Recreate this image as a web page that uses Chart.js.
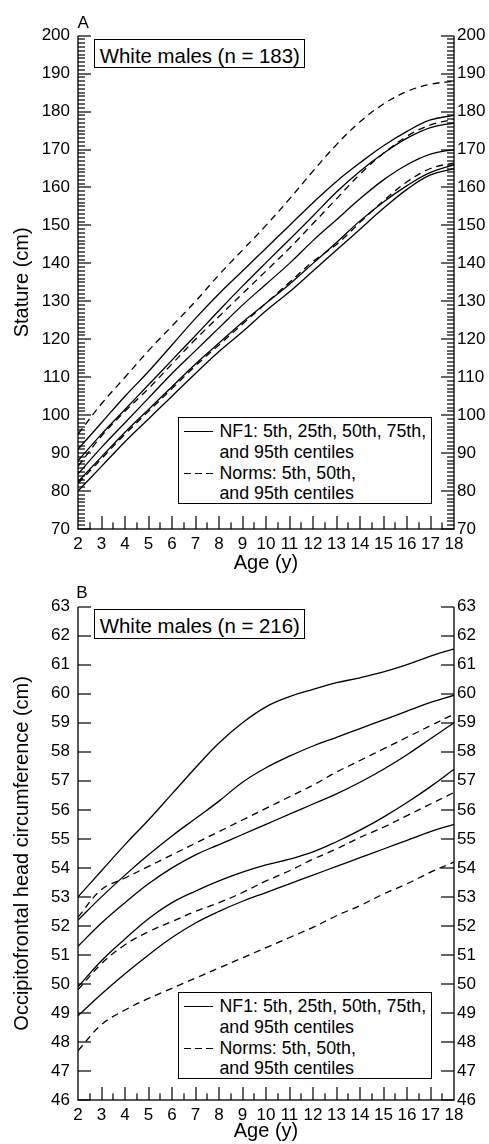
<!DOCTYPE html>
<html>
<head>
<meta charset="utf-8">
<title>NF1 growth centiles — white males</title>
<script src="https://cdn.jsdelivr.net/npm/chart.js@4/dist/chart.umd.min.js"></script>
<style>
  html, body { margin: 0; padding: 0; background: #fff; }
  body { position: relative; width: 489px; height: 1144px; overflow: hidden;
         font-family: "Liberation Sans", Arial, Helvetica, sans-serif; color: #000; }
  .panel { position: absolute; left: 0; width: 489px; }
  .tag { position: absolute; font-size: 17px; line-height: 17px; }
  .nbox { position: absolute; left: 93.7px; width: 211.6px; height: 29.3px; box-sizing: border-box;
          border: 1px solid #000; background: #fff; padding: 5.6px 0 0 5.1px;
          font-size: 20.4px; line-height: 20.4px; white-space: nowrap; }
  .legend { position: absolute; left: 178.3px; width: 254px; height: 87px; box-sizing: border-box;
            border: 1px solid #000; background: #fff; padding-top: 2.4px;
            font-size: 17.8px; line-height: 20.9px; white-space: nowrap; }
  .legend .row { position: relative; padding-left: 40.2px; }
  .legend .key { position: absolute; left: 4.7px; top: 10.2px; width: 29px; height: 1.3px; }
  .key.solid  { background: #000; }
  .key.dashed { background: repeating-linear-gradient(to right, #000 0 7px, transparent 7px 11px); }
</style>
</head>
<body>

<div class="panel" style="top:0;height:576px"><canvas id="chartA" width="489" height="576"></canvas></div>
<div class="panel" style="top:576px;height:568px"><canvas id="chartB" width="489" height="568"></canvas></div>

<div class="tag" style="left:77.5px;top:13.9px">A</div>
<div class="tag" style="left:76.3px;top:583.9px">B</div>

<div class="nbox" style="top:39px">White males (n = 183)</div>
<div class="nbox" style="top:609.3px">White males (n = 216)</div>

<div class="legend" style="top:417.3px">
  <div class="row"><span class="key solid"></span>NF1: 5th, 25th, 50th, 75th,</div>
  <div class="row">and 95th centiles</div>
  <div class="row"><span class="key dashed"></span>Norms: 5th, 50th,</div>
  <div class="row">and 95th centiles</div>
</div>
<div class="legend" style="top:992.3px">
  <div class="row"><span class="key solid"></span>NF1: 5th, 25th, 50th, 75th,</div>
  <div class="row">and 95th centiles</div>
  <div class="row"><span class="key dashed"></span>Norms: 5th, 50th,</div>
  <div class="row">and 95th centiles</div>
</div>

<script>
/* ─── Ejes ─── */
const AGES          = [2, 3, 4, 5, 6, 7, 8, 9, 10, 11, 12, 13, 14, 15, 16, 17, 18];
const AGE_TICKS     = [2, 3, 4, 5, 6, 7, 8, 9, 10, 11, 12, 13, 14, 15, 16, 17, 18];
const STATURE_TICKS = [70, 80, 90, 100, 110, 120, 130, 140, 150, 160, 170, 180, 190, 200];
const OFC_TICKS     = [46, 47, 48, 49, 50, 51, 52, 53, 54, 55, 56, 57, 58, 59, 60, 61, 62, 63];

/* ─── A: talla (cm) ─── */
const NF1_P95_HT  = [91, 98, 105, 111.5, 118.5, 125.5, 132, 138, 144, 150, 156, 161.6, 166.5, 171, 174.8, 177.8, 179];
const NF1_P75_HT  = [88, 95, 101.5, 108, 114.5, 121, 127.6, 134, 140.2, 146.3, 152.5, 158.8, 164.3, 169, 173, 175.8, 177];
const NF1_P50_HT  = [84.5, 91.5, 98, 104.5, 111, 117, 123, 129, 134.5, 140, 146, 151.5, 157, 162, 166, 168.8, 170];
const NF1_P25_HT  = [82.5, 89, 95.5, 101.5, 107.5, 113.5, 119, 124.5, 129.5, 134.5, 140, 145.5, 151.2, 156.2, 160.5, 164, 166];
const NF1_P05_HT  = [80, 86.5, 93, 99, 105, 111, 116.8, 122, 127.5, 132.5, 138, 143.5, 149, 154.5, 159.5, 163.3, 165];
const NORM_P95_HT = [95, 103, 110, 117, 123.5, 130, 137, 143.5, 150, 157, 164.3, 171.3, 177.3, 182, 185.3, 187.2, 188];
const NORM_P50_HT = [86.5, 94.5, 101, 107, 113.5, 120, 126, 132, 138, 144, 150.5, 157, 163.5, 169, 173.5, 176.5, 178];
const NORM_P05_HT = [82, 88.5, 95, 101, 107, 113, 118.5, 124, 129.5, 135, 140.5, 145, 150.8, 156.5, 161.5, 165, 166.5];

/* ─── B: perímetro cefálico (cm) ─── */
const NF1_P95_HC  = [53.0, 53.9, 54.8, 55.65, 56.55, 57.45, 58.3, 59.0, 59.55, 59.9, 60.15, 60.38, 60.55, 60.75, 61.0, 61.3, 61.55];
const NF1_P75_HC  = [52.2, 53.0, 53.75, 54.45, 55.1, 55.7, 56.3, 56.95, 57.45, 57.85, 58.2, 58.5, 58.8, 59.1, 59.4, 59.7, 59.95];
const NF1_P50_HC  = [51.3, 52.1, 52.8, 53.45, 54.0, 54.45, 54.8, 55.15, 55.5, 55.85, 56.2, 56.55, 56.95, 57.4, 57.9, 58.45, 59.0];
const NF1_P25_HC  = [49.9, 50.8, 51.55, 52.25, 52.8, 53.2, 53.55, 53.85, 54.1, 54.3, 54.55, 54.9, 55.3, 55.75, 56.25, 56.8, 57.4];
const NF1_P05_HC  = [48.9, 49.65, 50.35, 51.0, 51.6, 52.1, 52.5, 52.85, 53.15, 53.45, 53.75, 54.05, 54.35, 54.65, 54.95, 55.25, 55.5];
const NORM_P95_HC = [52.3, 53.25, 53.65, 54.05, 54.45, 54.85, 55.25, 55.65, 56.05, 56.45, 56.85, 57.3, 57.7, 58.1, 58.5, 58.9, 59.3];
const NORM_P50_HC = [49.8, 50.7, 51.35, 51.8, 52.15, 52.5, 52.8, 53.15, 53.55, 53.9, 54.3, 54.65, 55.05, 55.4, 55.8, 56.2, 56.6];
const NORM_P05_HC = [47.7, 48.6, 49.1, 49.5, 49.85, 50.2, 50.55, 50.9, 51.25, 51.6, 51.95, 52.35, 52.7, 53.1, 53.45, 53.85, 54.2];

const FONT = '"Liberation Sans", Arial, Helvetica, sans-serif';
Chart.defaults.font.family = FONT;
Chart.defaults.color = '#000';

/* ─── Marco con marcas hacia dentro (izq., der. e inferior) ─── */
function frameTicks(cfg) {
  const ageFrom = AGE_TICKS[0];
  const ageTo   = AGE_TICKS[AGE_TICKS.length - 1];
  return {
    id: 'frameTicks',
    afterDraw(chart) {
      const ctx = chart.ctx, a = chart.chartArea, x = chart.scales.x, y = chart.scales.y;
      const L = Math.round(a.left), R = Math.round(a.right);
      const T = Math.round(a.top),  B = Math.round(a.bottom);
      const W = 1.3;
      ctx.save();
      ctx.fillStyle = '#000';
      // axis lines
      ctx.fillRect(L - W / 2, T, W, B - T);
      ctx.fillRect(R - W / 2, T, W, B - T);
      ctx.fillRect(L - W / 2, B - W / 2, R - L + W, W);
      // y ticks, both sides
      const nY = Math.round((cfg.yMax - cfg.yMin) / cfg.yStep);
      for (let i = 0; i <= nY; i++) {
        const py = Math.round(y.getPixelForValue(cfg.yMin + i * cfg.yStep));
        const len = i % cfg.yMajorEvery === 0 ? 13 : 7;
        ctx.fillRect(L, py - 0.6, len, 1.2);
        ctx.fillRect(R - len, py - 0.6, len, 1.2);
      }
      // age ticks, whole and half years
      const nX = Math.round((ageTo - ageFrom) * 2);
      for (let i = 1; i < nX; i++) {
        const px = Math.round(x.getPixelForValue(ageFrom + i * 0.5));
        const len = i % 2 === 0 ? 13 : 6.7;
        ctx.fillRect(px - 0.6, B - len, 1.2, len);
      }
      ctx.restore();
    },
  };
}

function series(values, dashed) {
  return {
    data:        AGES.map((a, i) => ({ x: a, y: values[i] })),
    borderColor: '#000',
    borderWidth: 1.3,
    borderDash:  dashed ? [7, 5] : [],
    pointRadius: 0,
    fill:        false,
    tension:     0.4,
  };
}

function makeChart(id, cfg) {
  const setTicks = list => s => { s.ticks = list.map(v => ({ value: v })); };
  return new Chart(document.getElementById(id), {
    type: 'line',
    data: { datasets: cfg.datasets },
    plugins: [frameTicks(cfg)],
    options: {
      responsive: false,
      animation: false,
      devicePixelRatio: 1,
      layout: { padding: { top: cfg.top, left: 0, right: 0, bottom: 0 } },
      plugins: {
        legend:  { display: false },
        tooltip: { enabled: false },
      },
      scales: {
        x: {
          type: 'linear', min: AGE_TICKS[0], max: AGE_TICKS[AGE_TICKS.length - 1],
          afterBuildTicks: setTicks(AGE_TICKS),
          afterFit: s => { s.height = cfg.xHeight; },
          grid:   { display: false, drawTicks: false },
          border: { display: false },
          ticks:  { font: { size: 17 }, padding: 5, maxRotation: 0, autoSkip: false },
          title:  { display: true, text: 'Age (y)', font: { size: 20 }, padding: { top: 0, bottom: 1 } },
        },
        y: {
          type: 'linear', position: 'left', min: cfg.yMin, max: cfg.yMax,
          afterBuildTicks: setTicks(cfg.yTicks),
          afterFit: s => { s.width = 78; },
          grid:   { display: false, drawTicks: false },
          border: { display: false },
          ticks:  { font: { size: 17 }, padding: 8, autoSkip: false },
          title:  { display: true, text: cfg.yTitle, font: { size: 20 }, padding: { top: 10, bottom: 0 } },
        },
        y2: {
          type: 'linear', position: 'right', min: cfg.yMin, max: cfg.yMax,
          afterBuildTicks: setTicks(cfg.yTicks),
          afterFit: s => { s.width = 35; },
          grid:   { display: false, drawTicks: false },
          border: { display: false },
          ticks:  { font: { size: 17 }, padding: 3, autoSkip: false },
        },
      },
    },
  });
}

/* ─── BOOT ─── */
makeChart('chartA', {
  top: 35.7, xHeight: 47,
  yMin: STATURE_TICKS[0], yMax: STATURE_TICKS[STATURE_TICKS.length - 1], yTicks: STATURE_TICKS,
  yStep: 1, yMajorEvery: 10, yTitle: 'Stature (cm)',
  datasets: [
    series(NF1_P95_HT), series(NF1_P75_HT), series(NF1_P50_HT), series(NF1_P25_HT), series(NF1_P05_HT),
    series(NORM_P95_HT, true), series(NORM_P50_HT, true), series(NORM_P05_HT, true),
  ],
});

makeChart('chartB', {
  top: 30.7, xHeight: 44,
  yMin: OFC_TICKS[0], yMax: OFC_TICKS[OFC_TICKS.length - 1], yTicks: OFC_TICKS,
  yStep: 1, yMajorEvery: 1, yTitle: 'Occipitofrontal head circumference (cm)',
  datasets: [
    series(NF1_P95_HC), series(NF1_P75_HC), series(NF1_P50_HC), series(NF1_P25_HC), series(NF1_P05_HC),
    series(NORM_P95_HC, true), series(NORM_P50_HC, true), series(NORM_P05_HC, true),
  ],
});
</script>
</body>
</html>
